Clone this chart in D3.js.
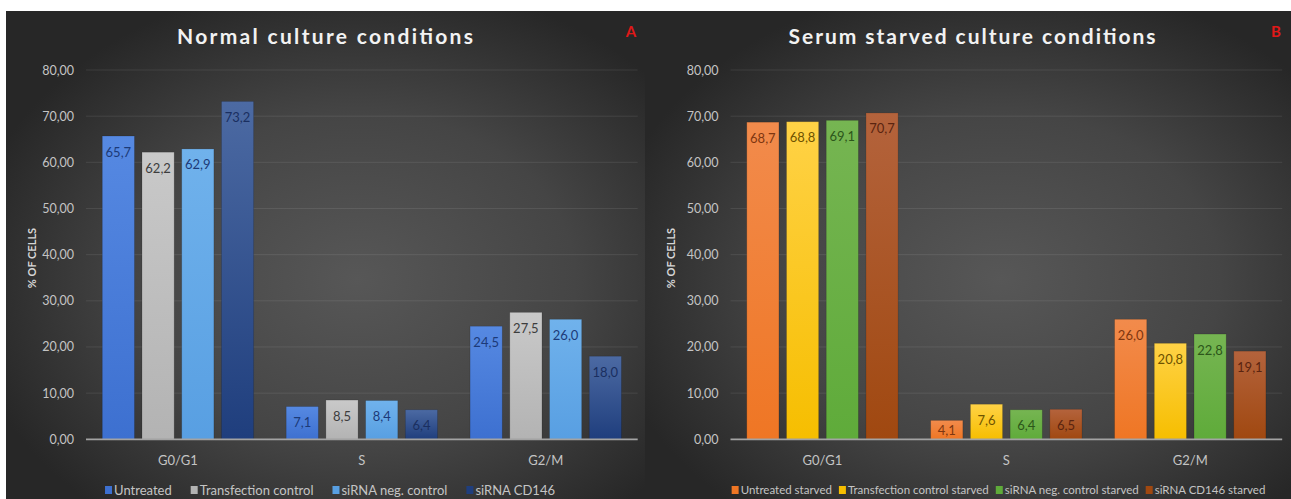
<!DOCTYPE html>
<html>
<head>
<meta charset="utf-8">
<script src="https://cdn.jsdelivr.net/npm/d3@7"></script>
<style>
  html, body { margin: 0; padding: 0; background: #ffffff; }
  svg { display: block; font-family: "Lato", "Open Sans", sans-serif; }
</style>
</head>
<body>
<svg id="chart" width="1291" height="499"></svg>
<script>
// Cell-cycle phases on the x axis
const categories = ["G0/G1", "S", "G2/M"];
const yTicks = [0, 10, 20, 30, 40, 50, 60, 70, 80];

// Panel A: normal culture conditions (% of cells)
const normalNames = ["Untreated", "Transfection control", "siRNA neg. control", "siRNA CD146"];
const untreated = [65.7, 7.1, 24.5];
const transfectionControl = [62.2, 8.5, 27.5];
const sirnaNegControl = [62.9, 8.4, 26.0];
const sirnaCD146 = [73.2, 6.4, 18.0];

// Panel B: serum starved culture conditions (% of cells)
const starvedNames = ["Untreated starved", "Transfection control starved", "siRNA neg. control starved", "siRNA CD146 starved"];
const untreatedStarved = [68.7, 4.1, 26.0];
const transfectionControlStarved = [68.8, 7.6, 20.8];
const sirnaNegControlStarved = [69.1, 6.4, 22.8];
const sirnaCD146Starved = [70.7, 6.5, 19.1];

// Bar fills (top, bottom) and value-label colours per series
const normalFills = [["#5689e2", "#3d70d0"], ["#c9c9c9", "#b3b3b3"], ["#70b2ec", "#589fe2"], ["#4c6aa3", "#1f3e7d"]];
const normalLabelColors = ["#1c3a78", "#3d3d3d", "#1c3a78", "#1a2f60"];
const starvedFills = [["#f28b4c", "#ef7624"], ["#ffd246", "#f6be00"], ["#76b552", "#5fab3a"], ["#b4633c", "#a04810"]];
const starvedLabelColors = ["#7e3610", "#6e5200", "#2c561a", "#5a2410"];

const svg = d3.select("#chart");
const defs = svg.append("defs");
const comma = d3.formatLocale({ decimal: ",", thousands: ".", grouping: [3], currency: ["", ""] });
const fmtTick = comma.format(".2f");
const fmtVal = comma.format(".1f");

const bg = defs.append("radialGradient").attr("id", "panelBg")
  .attr("cx", "0.55").attr("cy", "0.55").attr("r", "0.62");
bg.append("stop").attr("offset", "0").attr("stop-color", "#575757");
bg.append("stop").attr("offset", "0.55").attr("stop-color", "#454545");
bg.append("stop").attr("offset", "1").attr("stop-color", "#272727");

function barGradient(id, top, bottom) {
  const g = defs.append("linearGradient").attr("id", id)
    .attr("x1", 0).attr("y1", 0).attr("x2", 0).attr("y2", 1);
  g.append("stop").attr("offset", "0").attr("stop-color", top);
  g.append("stop").attr("offset", "1").attr("stop-color", bottom);
}

function drawPanel(cfg) {
  const g = svg.append("g");
  g.append("rect").attr("x", cfg.left).attr("y", 11)
    .attr("width", cfg.width).attr("height", 499 - 11)
    .attr("fill", "url(#panelBg)");

  const x0 = d3.scaleBand().domain(categories)
    .range([cfg.plotL, cfg.plotR]).paddingInner(0.177).paddingOuter(0.0885);
  const x1 = d3.scaleBand().domain(d3.range(cfg.series.length))
    .range([0, x0.bandwidth()]).paddingInner(0.19).paddingOuter(0);
  const y = d3.scaleLinear().domain([0, 80]).range([439.3, 70]);

  // gridlines
  g.append("g").selectAll("line").data(yTicks.filter(d => d > 0)).join("line")
    .attr("x1", cfg.plotL).attr("x2", cfg.plotR)
    .attr("y1", d => y(d)).attr("y2", d => y(d))
    .attr("stroke", "rgba(255,255,255,0.09)").attr("stroke-width", 1);

  // y axis tick labels
  const yAxis = d3.axisLeft(y).tickValues(yTicks).tickFormat(fmtTick).tickSize(0).tickPadding(12);
  const ya = g.append("g").attr("transform", `translate(${cfg.plotL},0)`).call(yAxis);
  ya.select(".domain").remove();
  ya.selectAll("text").attr("fill", "#c4c4c4").attr("font-size", 12.5)
    .attr("font-family", "Lato, sans-serif");

  // y axis title
  g.append("text")
    .attr("transform", `translate(${cfg.left + 26},258) rotate(-90)`)
    .attr("text-anchor", "middle").attr("dy", "0.35em")
    .attr("fill", "#d6d6d6").attr("font-size", 11).attr("font-weight", "bold")
    .text("% OF CELLS");

  // bars with value labels just inside the top end
  cfg.series.forEach((vals, i) => {
    const gid = `${cfg.id}-bar${i}`;
    barGradient(gid, cfg.fills[i][0], cfg.fills[i][1]);
    const sg = g.append("g");
    sg.selectAll("rect").data(vals).join("rect")
      .attr("x", (d, j) => x0(categories[j]) + x1(i))
      .attr("y", d => y(d))
      .attr("width", x1.bandwidth())
      .attr("height", d => y(0) - y(d))
      .attr("fill", `url(#${gid})`)
      .attr("stroke", "rgba(0,0,0,0.18)").attr("stroke-width", 0.8);
    sg.selectAll("text").data(vals).join("text")
      .attr("x", (d, j) => x0(categories[j]) + x1(i) + x1.bandwidth() / 2)
      .attr("y", d => Math.min(y(d) + 16, y(0) - 9))
      .attr("dy", "0.35em")
      .attr("text-anchor", "middle")
      .attr("fill", cfg.labelColors[i]).attr("font-size", 13)
      .text(d => fmtVal(d));
  });

  // category axis
  const xAxis = d3.axisBottom(x0).tickSize(0).tickPadding(16);
  const xa = g.append("g").attr("transform", `translate(0,${y(0)})`).call(xAxis);
  xa.select(".domain").attr("stroke", "#a3a3a3").attr("stroke-width", 1.8)
    .attr("d", `M${cfg.plotL},0H${cfg.plotR}`);
  xa.selectAll("text").attr("fill", "#c4c4c4").attr("font-size", 13)
    .attr("font-family", "Lato, sans-serif");

  // title
  g.append("text").attr("x", cfg.titleX).attr("y", 44)
    .attr("text-anchor", "middle").attr("fill", "#f2f2f2")
    .attr("font-size", 21).attr("font-weight", "bold")
    .attr("textLength", cfg.titleLen).attr("lengthAdjust", "spacing")
    .text(cfg.title);

  // panel letter
  g.append("text").attr("x", cfg.letterX).attr("y", 37)
    .attr("text-anchor", "middle").attr("fill", "#e01818")
    .attr("font-size", 15).attr("font-weight", "bold")
    .text(cfg.letter);

  // legend
  const lg = g.append("g");
  let cursor = 0;
  cfg.names.forEach((name, i) => {
    const it = lg.append("g");
    it.append("rect").attr("x", 0).attr("y", -4).attr("width", 7).attr("height", 8)
      .attr("fill", cfg.fills[i][1]);
    const t = it.append("text").attr("x", 9).attr("dy", "0.35em")
      .attr("fill", "#c4c4c4").attr("font-size", cfg.legendSize).text(name);
    const w = 9 + t.node().getComputedTextLength();
    it.attr("transform", `translate(${cursor},490)`);
    cursor += w + cfg.legendGap;
  });
  const total = cursor - cfg.legendGap;
  lg.attr("transform", `translate(${cfg.legendCx - total / 2},0)`);
}

drawPanel({
  id: "a", left: 6, width: 639, plotL: 86, plotR: 637.7,
  series: [untreated, transfectionControl, sirnaNegControl, sirnaCD146],
  names: normalNames, fills: normalFills, labelColors: normalLabelColors,
  title: "Normal culture conditions", titleX: 325, titleLen: 296,
  letter: "A", letterX: 631,
  legendCx: 330, legendSize: 13, legendGap: 19
});

drawPanel({
  id: "b", left: 645, width: 646, plotL: 730.5, plotR: 1282.2,
  series: [untreatedStarved, transfectionControlStarved, sirnaNegControlStarved, sirnaCD146Starved],
  names: starvedNames, fills: starvedFills, labelColors: starvedLabelColors,
  title: "Serum starved culture conditions", titleX: 972, titleLen: 367,
  letter: "B", letterX: 1276,
  legendCx: 998.5, legendSize: 11.5, legendGap: 7
});
</script>
</body>
</html>
